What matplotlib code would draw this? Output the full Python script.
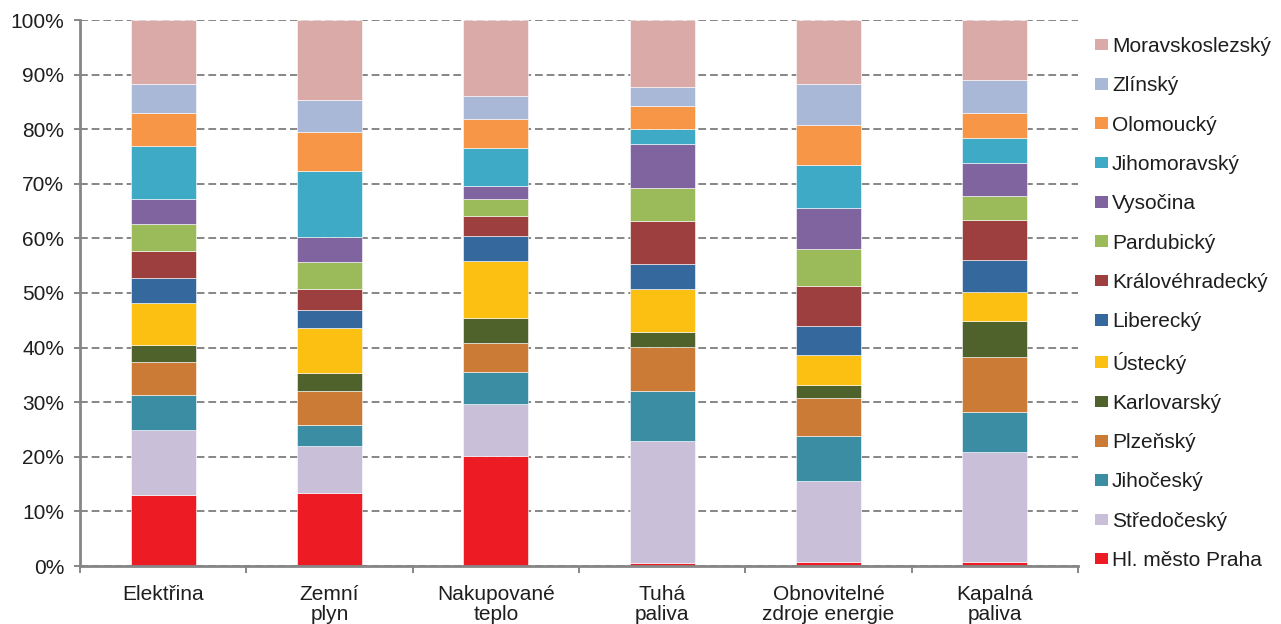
import numpy as np
import matplotlib.pyplot as plt
from matplotlib.patches import Patch
from matplotlib.ticker import FixedLocator, PercentFormatter

plt.rcParams['font.family'] = ['Liberation Sans', 'DejaVu Sans']
plt.rcParams['text.color'] = '#1E1E1E'
plt.rcParams['xtick.labelcolor'] = '#1E1E1E'
plt.rcParams['ytick.labelcolor'] = '#1E1E1E'

categories = ['Elektřina', 'Zemní\nplyn', 'Nakupované\nteplo', 'Tuhá\npaliva',
              'Obnovitelné\nzdroje energie', 'Kapalná\npaliva']

regions = ['Hl. město Praha', 'Středočeský', 'Jihočeský', 'Plzeňský', 'Karlovarský',
           'Ústecký', 'Liberecký', 'Královéhradecký', 'Pardubický', 'Vysočina',
           'Jihomoravský', 'Olomoucký', 'Zlínský', 'Moravskoslezský']

colors = ['#ED1C24', '#C9BFD9', '#3B8DA3', '#CB7B35', '#4F622B', '#FBC012', '#35699E',
          '#9D3F3E', '#9BBA59', '#8064A0', '#3FAAC6', '#F79646', '#A9B8D7', '#D9AAA8']

# shares in % per region (rows) for each energy type (columns)
praha          = [13.1, 13.35, 20.2, 0.5, 0.8, 0.8]
stredocesky    = [11.9, 8.55, 9.4, 22.4, 14.75, 20.0]
jihocesky      = [6.4, 3.9, 6.0, 9.2, 8.35, 7.4]
plzensky       = [6.0, 6.35, 5.25, 8.0, 6.8, 10.15]
karlovarsky    = [3.1, 3.15, 4.55, 2.8, 2.4, 6.55]
ustecky        = [7.75, 8.35, 10.55, 7.75, 5.6, 5.35]
liberecky      = [4.55, 3.25, 4.55, 4.6, 5.2, 5.75]
kralovehradecky = [4.85, 3.8, 3.55, 8.0, 7.4, 7.3]
pardubicky     = [5.0, 4.95, 3.15, 6.0, 6.75, 4.55]
vysocina       = [4.55, 4.55, 2.4, 8.0, 7.6, 5.95]
jihomoravsky   = [9.75, 12.2, 7.0, 2.85, 7.75, 4.6]
olomoucky      = [6.1, 7.1, 5.25, 4.15, 7.35, 4.6]
zlinsky        = [5.25, 5.95, 4.3, 3.55, 7.5, 5.95]
moravskoslezsky = [11.75, 14.6, 13.85, 12.2, 11.75, 11.05]

values = np.array([praha, stredocesky, jihocesky, plzensky, karlovarsky, ustecky,
                   liberecky, kralovehradecky, pardubicky, vysocina, jihomoravsky,
                   olomoucky, zlinsky, moravskoslezsky])
values = values / values.sum(axis=0) * 100

fig = plt.figure(figsize=(12.81, 6.24), dpi=100)
ax = fig.add_axes([80 / 1281, 1 - 566 / 624, 998 / 1281, 546 / 624])

x = np.arange(len(categories))
bottom = np.zeros(len(categories))
for row, color in zip(values, colors):
    ax.bar(x, row, width=0.39, bottom=bottom, color=color,
           edgecolor='#FFFFFF', linewidth=0.4, zorder=2)
    bottom += row

grid_col = '#868686'
ax.set_xlim(-0.5, len(categories) - 0.5)
ax.set_ylim(0, 100)
ax.yaxis.set_major_locator(FixedLocator(np.arange(0, 101, 10)))
ax.yaxis.set_major_formatter(PercentFormatter(decimals=0))
ax.yaxis.grid(True, color=grid_col, linestyle=(0, (4, 2)), linewidth=1.4, zorder=0)
ax.set_axisbelow(True)

ax.set_xticks(x)
ax.set_xticklabels(categories, fontsize=15, linespacing=1.02)
ax.set_xticks(np.arange(-0.5, len(categories)), minor=True)
ax.tick_params(axis='x', which='major', length=0, pad=14)
ax.tick_params(axis='x', which='minor', length=5, width=1.4, color=grid_col)
ax.tick_params(axis='y', length=4, width=1.4, color=grid_col, labelsize=15, pad=7.5)

for side in ('top', 'right'):
    ax.spines[side].set_visible(False)
for side in ('left', 'bottom'):
    ax.spines[side].set_color(grid_col)
    ax.spines[side].set_linewidth(2)

handles = [Patch(facecolor=c, label=r) for r, c in zip(regions, colors)][::-1]
fig.legend(handles=handles, loc='upper left', bbox_to_anchor=(1095 / 1281, 1 - 37 / 624),
           frameon=False, fontsize=15, handlelength=0.62, handleheight=0.48,
           handletextpad=0.2, labelspacing=0.975, borderpad=0, borderaxespad=0)

fig.savefig('out.png', dpi=100)
